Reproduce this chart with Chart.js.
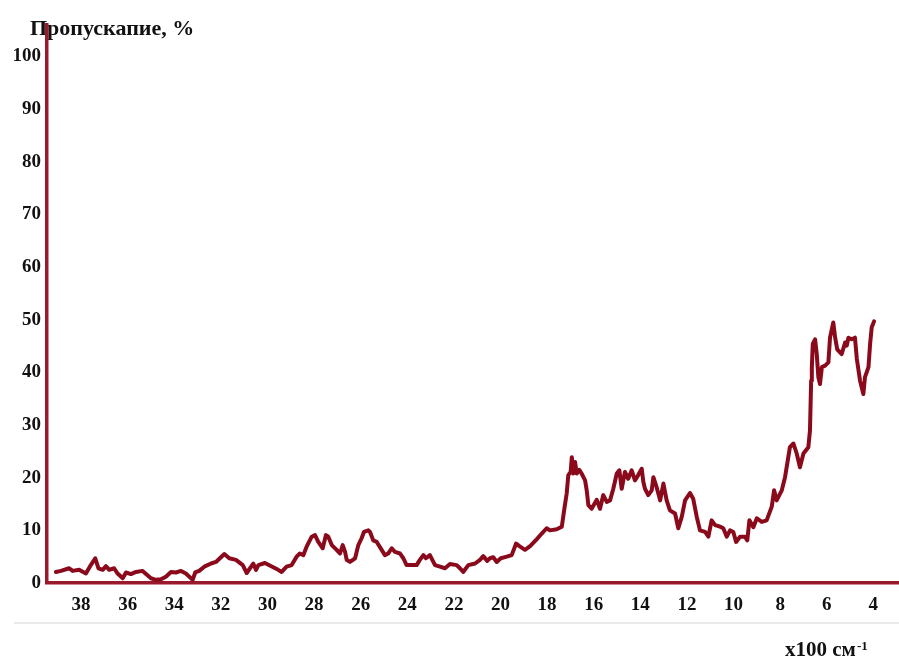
<!DOCTYPE html>
<html>
<head>
<meta charset="utf-8">
<script src="https://cdn.jsdelivr.net/npm/chart.js@4/dist/chart.umd.min.js"></script>
<style>
  html, body { margin: 0; padding: 0; background: #ffffff; }
  #wrap { width: 899px; height: 657px; }
</style>
</head>
<body>
<div id="wrap"><canvas id="c" width="899" height="657"></canvas></div>
<script>
// ---- Data (wavenumber in x100 cm^-1, transmittance in %) ----
const wavenumbers = [
  39.08, 38.86, 38.51, 38.36, 38.08, 37.79, 37.58, 37.39, 37.25, 37.07,
  36.93, 36.79, 36.58, 36.43, 36.21, 36.07, 35.86, 35.64, 35.36, 35.21,
  35.00, 34.79, 34.57, 34.36, 34.14, 33.93, 33.71, 33.50, 33.21, 33.10,
  32.93, 32.71, 32.42, 32.21, 31.85, 31.64, 31.35, 31.06, 30.89, 30.61,
  30.49, 30.39, 30.11, 29.54, 29.39, 29.18, 28.96, 28.75, 28.61, 28.46,
  28.32, 28.10, 27.96, 27.82, 27.63, 27.49, 27.39, 27.24, 27.03, 26.89,
  26.77, 26.67, 26.60, 26.46, 26.24, 26.10, 25.96, 25.86, 25.67, 25.60,
  25.46, 25.31, 25.10, 24.96, 24.82, 24.67, 24.53, 24.31, 24.17, 24.03,
  23.60, 23.46, 23.31, 23.20, 23.03, 22.81, 22.60, 22.38, 22.17, 21.88,
  21.74, 21.60, 21.38, 21.09, 20.88, 20.74, 20.57, 20.45, 20.31, 20.16,
  19.99, 19.73, 19.52, 19.33, 19.19, 18.95, 18.73, 18.45, 18.23, 18.02,
  17.88, 17.59, 17.37, 17.27, 17.16, 17.09, 16.99, 16.94, 16.88, 16.80,
  16.73, 16.62, 16.52, 16.37, 16.30, 16.23, 16.09, 15.87, 15.73, 15.59,
  15.44, 15.30, 15.16, 15.01, 14.90, 14.80, 14.66, 14.52, 14.37, 14.23,
  14.09, 13.94, 13.87, 13.80, 13.66, 13.51, 13.44, 13.30, 13.15, 13.01,
  12.87, 12.73, 12.51, 12.37, 12.22, 12.08, 11.87, 11.73, 11.58, 11.44,
  11.22, 11.08, 10.94, 10.79, 10.58, 10.44, 10.29, 10.15, 10.01, 9.89,
  9.72, 9.51, 9.41, 9.32, 9.15, 9.00, 8.79, 8.58, 8.36, 8.26,
  8.15, 7.93, 7.79, 7.58, 7.43, 7.29, 7.15, 7.00, 6.79, 6.72,
  6.69, 6.67, 6.64, 6.60, 6.50, 6.43, 6.36, 6.29, 6.21, 6.07,
  5.93, 5.86, 5.72, 5.64, 5.55, 5.36, 5.21, 5.14, 5.07, 4.93,
  4.79, 4.71, 4.57, 4.43, 4.36, 4.21, 4.14, 4.07, 3.97
];
const transmittance = [
  2.1, 2.3, 2.8, 2.3, 2.5, 1.8, 3.4, 4.7, 2.8, 2.5,
  3.2, 2.5, 2.8, 1.8, 0.9, 2.0, 1.7, 2.1, 2.3, 1.7,
  0.9, 0.6, 0.7, 1.2, 2.1, 2.0, 2.3, 1.8, 0.6, 2.0,
  2.3, 3.1, 3.7, 4.0, 5.5, 4.7, 4.4, 3.4, 1.9, 3.7,
  2.5, 3.4, 3.8, 2.5, 2.1, 3.1, 3.4, 5.0, 5.6, 5.3,
  6.9, 8.8, 9.1, 7.8, 6.6, 9.1, 8.8, 7.2, 6.3, 5.6,
  7.2, 5.9, 4.4, 4.0, 4.7, 7.2, 8.5, 9.7, 10.0, 9.7,
  8.1, 7.8, 6.3, 5.3, 5.6, 6.6, 5.9, 5.6, 4.7, 3.4,
  3.4, 4.4, 5.3, 4.7, 5.3, 3.4, 3.1, 2.8, 3.6, 3.4,
  2.8, 2.1, 3.4, 3.7, 4.4, 5.1, 4.2, 4.7, 4.9, 4.0,
  4.7, 5.0, 5.3, 7.5, 7.0, 6.3, 7.0, 8.3, 9.4, 10.4,
  10.0, 10.2, 10.7, 13.8, 17.0, 20.5, 21.1, 23.9, 20.8, 23.0,
  20.8, 21.5, 20.8, 19.5, 17.6, 14.8, 14.1, 15.8, 14.1, 16.7,
  15.4, 15.7, 17.9, 20.8, 21.4, 17.9, 21.1, 19.8, 21.4, 19.5,
  20.5, 21.7, 19.2, 17.9, 16.7, 17.6, 20.1, 18.2, 15.7, 18.9,
  15.7, 13.8, 13.2, 10.4, 12.6, 15.7, 17.1, 16.0, 12.6, 10.0,
  9.7, 8.8, 11.9, 11.0, 10.7, 10.4, 8.8, 10.0, 9.7, 7.8,
  8.8, 8.8, 8.1, 11.9, 10.6, 12.3, 11.6, 11.9, 14.5, 17.6,
  15.7, 17.6, 20.1, 25.8, 26.5, 24.6, 22.0, 24.6, 25.8, 29.0,
  34.7, 38.4, 41.0, 45.4, 46.3, 43.5, 39.1, 37.8, 41.0, 41.3,
  41.9, 46.6, 49.5, 46.6, 44.4, 43.5, 45.7, 45.1, 46.6, 46.3,
  46.6, 42.6, 38.4, 35.9, 39.1, 41.0, 45.4, 48.6, 49.7
];
const xTickValues = [38, 36, 34, 32, 30, 28, 26, 24, 22, 20, 18, 16, 14, 12, 10, 8, 6, 4];
const yTickValues = [0, 10, 20, 30, 40, 50, 60, 70, 80, 90, 100];
const yAxisTitle = 'Пропускапие, %';
const xAxisUnit = 'x100 см';
const xAxisUnitSup = '-1';

// ---- Styling ----
const LINE_COLOR = '#8a0a1c';
const AXIS_COLOR = '#981a2c';
const SERIF = '"Liberation Serif", "Times New Roman", serif';

const decor = {
  id: 'decor',
  beforeDraw(chart) {
    const ctx = chart.ctx;
    ctx.save();
    ctx.fillStyle = '#ffffff';
    ctx.fillRect(0, 0, chart.width, chart.height);
    // y-axis title (drawn under the axis line)
    ctx.fillStyle = '#111111';
    ctx.font = 'bold 22px ' + SERIF;
    ctx.textBaseline = 'alphabetic';
    ctx.textAlign = 'left';
    ctx.fillText(yAxisTitle, 30, 35);
    // light separator line
    ctx.strokeStyle = '#e4e4e4';
    ctx.lineWidth = 1.5;
    ctx.beginPath();
    ctx.moveTo(14, 623);
    ctx.lineTo(899, 623);
    ctx.stroke();
    // x unit label
    ctx.fillStyle = '#111111';
    ctx.font = 'bold 21px ' + SERIF;
    ctx.fillText(xAxisUnit, 785, 656);
    const w = ctx.measureText(xAxisUnit).width;
    ctx.font = 'bold 13px ' + SERIF;
    ctx.fillText(xAxisUnitSup, 785 + w + 1, 650);
    ctx.restore();
  }
};

const tickFont = { family: SERIF, size: 19, weight: 'bold' };

new Chart(document.getElementById('c'), {
  type: 'scatter',
  data: {
    datasets: [{
      data: wavenumbers.map((x, i) => ({ x: x, y: transmittance[i] })),
      showLine: true,
      borderColor: LINE_COLOR,
      backgroundColor: LINE_COLOR,
      borderWidth: 4,
      pointRadius: 0,
      tension: 0,
      borderJoinStyle: 'round',
      borderCapStyle: 'round'
    }]
  },
  options: {
    responsive: false,
    animation: false,
    layout: { padding: { top: 25, left: 0, right: 0, bottom: 0 } },
    plugins: { legend: { display: false }, tooltip: { enabled: false } },
    scales: {
      x: {
        type: 'linear',
        reverse: true,
        min: 2.90,
        max: 39.46,
        afterBuildTicks: s => { s.ticks = xTickValues.map(v => ({ value: v })); },
        afterFit: s => { s.height = 74; },
        grid: { display: false, drawTicks: false },
        border: { display: true, color: AXIS_COLOR, width: 3.5 },
        ticks: { font: tickFont, color: '#111111', padding: 11, maxRotation: 0, autoSkip: false }
      },
      y: {
        min: 0,
        max: 106,
        afterBuildTicks: s => { s.ticks = yTickValues.map(v => ({ value: v })); },
        afterFit: s => { s.width = 47; },
        grid: { display: false, drawTicks: false },
        border: { display: true, color: AXIS_COLOR, width: 3.5 },
        ticks: { font: tickFont, color: '#111111', padding: 6, autoSkip: false }
      }
    }
  },
  plugins: [decor]
});
</script>
</body>
</html>
